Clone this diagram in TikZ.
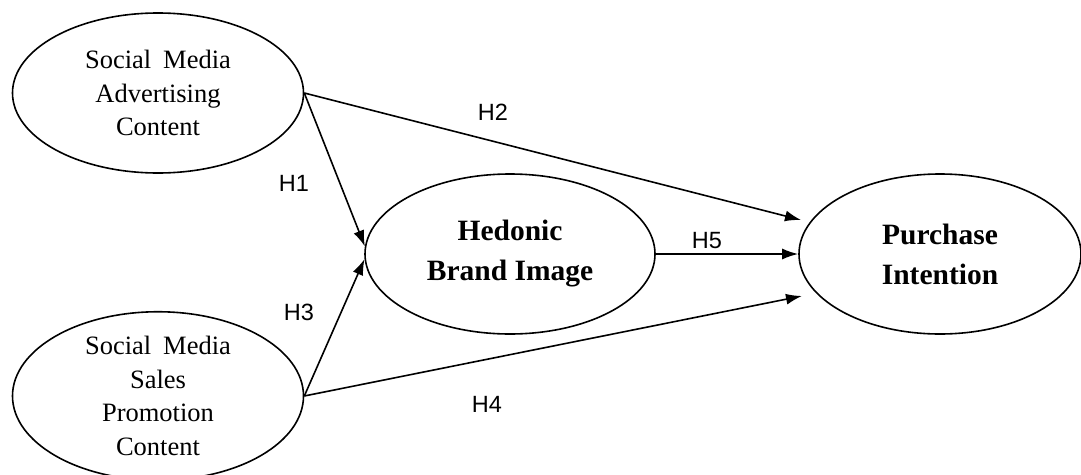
\documentclass[tikz,border=0pt]{standalone}
\usepackage{fontspec}
\setmainfont{Liberation Serif}
\newfontfamily\labfont{Liberation Sans}
\usetikzlibrary{shapes.geometric,arrows.meta}
\begin{document}
\begin{tikzpicture}[x=1pt,y=-1pt,
  latent/.style={ellipse,draw,line width=1.6pt,inner sep=0pt,align=center},
  smallvar/.style={latent,minimum width=291pt,minimum height=160pt,font=\fontsize{26.5}{33.5}\selectfont},
  bigvar/.style={latent,minimum height=160pt,font=\fontsize{29.5}{40}\selectfont\bfseries},
  link/.style={line width=1.6pt,-{Latex[length=16pt,width=11pt]}},
  hyp/.style={font=\labfont\fontsize{23.5}{23.5}\selectfont,inner sep=0pt}]
\fill[white] (0,0) rectangle (1081,474);
\useasboundingbox (0,0) rectangle (1081,474);
\node[smallvar] (A) at (158,93) {Social\hspace{0.45em}Media\\Advertising\\Content};
\node[smallvar,minimum height=156pt] (B) at (158,396) {Social\hspace{0.45em}Media\\Sales\\Promotion\\Content};
\node[bigvar,minimum width=290pt] (H) at (510,254) {Hedonic\\Brand Image};
\node[bigvar,minimum width=282pt] (D) at (940,254) {Purchase\\Intention};
\coordinate (p2) at (801,220);
\coordinate (p4) at (802,296);
\draw[link] (A.east) -- (H.177);
\draw[link] (B.east) -- (H.182);
\draw[link] (A.east) -- (p2);
\draw[link] (B.east) -- (p4);
\draw[link] (H.east) -- (D.west);
\node[hyp] (h1) at (294,183) {H1};
\node[hyp] (h2) at (493,112) {H2};
\node[hyp] (h3) at (299,312) {H3};
\node[hyp] (h4) at (487,404) {H4};
\node[hyp] (h5) at (707,241) {H5};
\end{tikzpicture}
\end{document}
